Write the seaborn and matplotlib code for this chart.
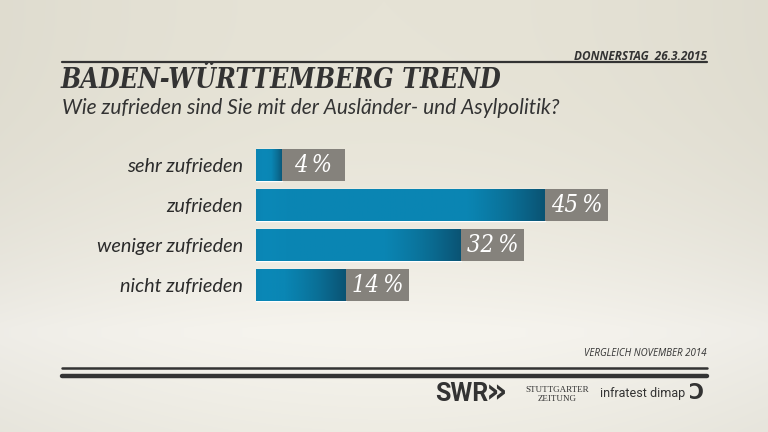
import matplotlib.pyplot as plt
import matplotlib.colors as mcolors
import numpy as np
import pandas as pd
import seaborn as sns

# data
categories = ['sehr zufrieden', 'zufrieden', 'weniger zufrieden', 'nicht zufrieden']
values = [4, 45, 32, 14]
value_labels = ['4\u2009%', '45\u2009%', '32\u2009%', '14\u2009%']

title = 'BADEN-WÜRTTEMBERG TREND'
subtitle = 'Wie zufrieden sind Sie mit der Ausländer- und Asylpolitik?'
date_text = 'DONNERSTAG  26.3.2015'
compare_text = 'VERGLEICH NOVEMBER 2014'

W, H = 768, 432
BG_TOP = np.array(mcolors.to_rgb('#e6e3d6'))
BG_LIGHT = np.array(mcolors.to_rgb('#f6f4ee'))
BG_BOT = np.array(mcolors.to_rgb('#eeece3'))
DARK = '#333333'
GREY_BOX = '#85827c'

sns.set_theme(style='white')

fig = plt.figure(figsize=(W / 100, H / 100), dpi=100)

# background
bg_ax = fig.add_axes([0, 0, 1, 1], zorder=-10)
yy = np.linspace(0, 1, H)[:, None]
xx = np.linspace(-1, 1, W)[None, :]
t_top = np.clip(yy / 0.76, 0, 1) ** 2.5
img = BG_TOP[None, None, :] * (1 - t_top[..., None]) + BG_LIGHT[None, None, :] * t_top[..., None]
below = np.clip((yy - 0.78) / 0.22, 0, 1)
img = img * (1 - below[..., None]) + BG_BOT[None, None, :] * below[..., None]
img = img * (1 - 0.03 * (xx ** 2)[..., None])
img = np.broadcast_to(img, (H, W, 3))
bg_ax.imshow(img, aspect='auto', extent=[0, 1, 0, 1])
bg_ax.axis('off')

# bar axes: 0..60 % over 385 px starting at x=256
px_per_unit = 6.42
xmax = 60
ax = fig.add_axes([256 / W, 1 - 304.5 / H, xmax * px_per_unit / W, 160 / H])
df = pd.DataFrame({'cat': categories, 'val': values})
sns.barplot(data=df, x='val', y='cat', orient='h', color='#0a86b4',
            width=0.8, ax=ax, saturation=1)
ax.set_xlim(0, xmax)
ax.set_ylim(3.5, -0.5)
ax.patch.set_alpha(0)
for s in ax.spines.values():
    s.set_visible(False)
ax.set_xlabel('')
ax.set_ylabel('')
ax.set_xticks([])
ax.tick_params(axis='y', length=0, pad=9.5)
ax.set_yticks(range(len(categories)))
ax.set_yticklabels(categories, fontsize=14.3, style='italic', family='Lato',
                   color='#2b2b2b')

# gradient fill on each bar
cmap = mcolors.LinearSegmentedColormap.from_list(
    'bar', ['#0b7fae', '#0a88b7', '#0a86b4', '#0a6f96', '#0b5373'])
for p in ax.patches:
    x0, y0 = p.get_x(), p.get_y()
    w, h = p.get_width(), p.get_height()
    n = 300
    pos = np.linspace(0, 1, n)
    wpx = w * px_per_unit
    fw = min(80, wpx * 0.7)
    fade = np.clip((pos * wpx - (wpx - fw)) / fw, 0, 1) ** 1.2
    vals = 0.15 + 0.35 * np.clip(pos * wpx / 30, 0, 1) + 0.5 * fade
    im = ax.imshow(vals[None, :], cmap=cmap, vmin=0, vmax=1, aspect='auto',
                   extent=[x0, x0 + w, y0 + h, y0], zorder=2)
    im.set_clip_path(p)
    p.set_facecolor('none')

ax.set_xlim(0, xmax)
ax.set_ylim(3.5, -0.5)

# grey value boxes
box_w = 63 / px_per_unit
for i, (v, lab) in enumerate(zip(values, value_labels)):
    ax.add_patch(plt.Rectangle((v, i - 0.4), box_w, 0.8, color=GREY_BOX,
                               zorder=3, lw=0))
    ax.text(v + box_w / 2, i + 0.02, lab, ha='center', va='center',
            color='white', fontsize=17, style='italic', family='DejaVu Serif',
            stretch='condensed', zorder=4)

# header
x_left, x_right = 62 / W, 707 / W
fig.text(x_right, 1 - 56 / H, date_text, ha='right', va='center', fontsize=8.5,
         weight='bold', style='italic', family='Open Sans', color=DARK)
fig.add_artist(plt.Line2D([x_left, x_right], [1 - 62 / H] * 2, color=DARK, lw=1.6))
fig.text(x_left - 1 / W, 1 - 80 / H, title, ha='left', va='center', fontsize=19.2,
         weight='bold', style='italic', family='DejaVu Serif',
         stretch='condensed', color=DARK)
fig.text(x_left, 1 - 108 / H, subtitle, ha='left', va='center', fontsize=15,
         style='italic', family='Lato', color=DARK)

# footer
fig.text(x_right, 1 - 354 / H, compare_text, ha='right', va='center',
         fontsize=7, style='italic', family='Open Sans', color=DARK)
fig.add_artist(plt.Line2D([x_left, x_right], [1 - 368 / H] * 2, color=DARK, lw=1.8))
fig.add_artist(plt.Line2D([x_left, x_right], [1 - 376 / H] * 2, color=DARK, lw=3.2))

fig.text(435 / W, 1 - 394 / H, 'SWR', ha='left', va='center', fontsize=18,
         weight='bold', family='Roboto', color=DARK)
fig.text(486 / W, 1 - 393 / H, '»', ha='left', va='center', fontsize=24,
         weight='bold', family='DejaVu Sans', color=DARK)
fig.text(557 / W, 1 - 390 / H, 'STUTTGARTER', ha='center', va='center',
         fontsize=6.5, family='Liberation Serif', color=DARK)
fig.text(557 / W, 1 - 399 / H, 'ZEITUNG', ha='center', va='center',
         fontsize=6.5, family='Liberation Serif', color=DARK)
fig.text(600 / W, 1 - 393 / H, 'infratest dimap', ha='left', va='center',
         fontsize=9, family='Roboto', color=DARK)
fig.text(697 / W, 1 - 393 / H, 'Ɔ', ha='center', va='center', fontsize=15,
         weight='bold', family='DejaVu Sans', color=DARK)

fig.savefig('out.png', dpi=100)
